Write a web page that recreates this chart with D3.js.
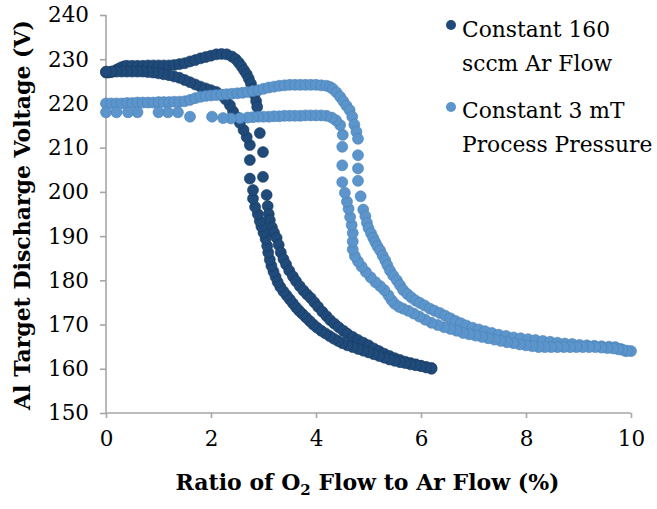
<!DOCTYPE html>
<html>
<head>
<meta charset="utf-8">
<script src="https://cdn.jsdelivr.net/npm/d3@7"></script>
<style>
  html, body { margin: 0; padding: 0; background: #fff; }
  svg { display: block; }
  text { font-family: "DejaVu Serif", serif; fill: #000; }
</style>
</head>
<body>
<svg id="chart" width="657" height="509"></svg>
<script>
// Discharge voltage hysteresis, Ar flow held at 160 sccm: O2/Ar ratio (%) vs voltage (V)
const arFlowSeries = [
  [0,227],[0.05,227],[0.1,227.1],[0.15,227.3],[0.2,227.6],[0.25,227.9],[0.3,228.2],[0.35,228.4],[0.4,228.5],
  [0.5,228.5],[0.6,228.5],[0.7,228.5],[0.8,228.6],[0.9,228.6],[1.0,228.6],[1.1,228.6],[1.2,228.6],
  [1.3,228.7],[1.4,228.9],[1.5,229.1],[1.6,229.5],[1.7,229.8],[1.8,230.2],[1.9,230.5],[2.0,230.8],
  [2.1,231.1],[2.2,231.2],[2.3,231.1],[2.4,230.6],[2.47,230],[2.53,229.2],[2.58,228.4],[2.63,227.5],
  [2.68,226.6],[2.72,225.6],[2.76,224.5],[2.8,223.3],[2.83,222],[2.86,220.5],[2.88,219.2],
  [2.93,213.3],[2.99,209],[2.99,203.4],[3.06,199.3],[3.08,196.8],[3.1,195],[3.12,193.6],[3.16,192],
  [3.2,190.8],[3.25,189.6],[3.29,188],[3.33,186.3],[3.38,184.8],[3.43,183.6],[3.49,182.2],[3.56,180.9],
  [3.62,179.8],[3.69,178.7],[3.76,177.7],[3.83,176.8],[3.9,176],[3.97,175],[4.04,174],[4.12,172.9],
  [4.2,171.9],[4.27,171],[4.35,170.2],[4.43,169.4],[4.52,168.6],[4.6,167.9],[4.7,167.2],[4.8,166.5],
  [4.9,165.9],[5.0,165.3],[5.1,164.6],[5.2,164],[5.3,163.4],[5.4,162.9],[5.5,162.4],[5.6,162],
  [5.7,161.6],[5.8,161.3],[5.9,161],[6.0,160.7],[6.1,160.4],[6.2,160.2]
];
const arFlowReturn = [
  [6.2,160],[6.1,160.3],[6.0,160.6],[5.9,160.8],[5.8,161],[5.7,161.3],[5.6,161.5],[5.5,161.8],
  [5.4,162.1],[5.3,162.5],[5.2,162.9],[5.1,163.3],[5.0,163.7],[4.9,164.1],[4.8,164.5],[4.7,164.9],
  [4.6,165.3],[4.5,165.8],[4.42,166.3],[4.34,166.8],[4.26,167.4],[4.18,168],[4.1,168.6],[4.02,169.3],
  [3.95,170],[3.88,170.8],[3.81,171.6],[3.74,172.4],[3.68,173.1],[3.62,173.9],[3.56,174.8],[3.5,175.7],
  [3.44,176.6],[3.38,177.5],[3.32,178.5],[3.27,179.6],[3.23,180.8],[3.19,182],[3.15,183.3],[3.12,184.7],
  [3.09,186.3],[3.07,187.8],[3.04,189.4],[3.0,190.8],[2.96,192.2],[2.93,193.4],[2.89,195],[2.84,196.6],
  [2.8,198.5],[2.8,200.4],[2.74,203],[2.74,207.2],[2.74,210.6],[2.68,212.4],[2.62,214],[2.55,215.6],
  [2.48,217],[2.42,218.2],[2.36,219.6],[2.28,220.9],[2.2,221.9],[2.1,222.6],[2.0,223],[1.9,223.4],
  [1.8,223.8],[1.7,224.3],[1.6,224.8],[1.5,225.3],[1.4,225.8],[1.3,226.1],[1.2,226.4],[1.1,226.6],
  [1.0,226.8],[0.9,227],[0.8,227.1],[0.7,227.2],[0.6,227.2],[0.5,227.2],[0.4,227.2],[0.3,227.2],
  [0.2,227.2],[0.1,227.2],[0,227.2]
];

// Discharge voltage hysteresis, process pressure held at 3 mT
const pressureSeries = [
  [0,220],[0.1,220],[0.2,220],[0.3,220],[0.4,220.1],[0.5,220.1],[0.6,220.2],[0.7,220.2],[0.8,220.2],
  [0.9,220.2],[1.0,220.3],[1.1,220.3],[1.2,220.3],[1.3,220.4],[1.4,220.4],[1.5,220.5],[1.6,220.8],
  [1.7,221.2],[1.8,221.5],[1.9,221.7],[2.0,221.8],[2.1,221.9],[2.2,222],[2.3,222.1],[2.4,222.2],
  [2.5,222.3],[2.6,222.4],[2.7,222.6],[2.8,222.8],[2.9,223],[3.0,223.3],[3.1,223.6],[3.2,223.8],
  [3.3,224],[3.4,224.1],[3.5,224.2],[3.6,224.2],[3.7,224.2],[3.8,224.2],[3.9,224.2],[4.0,224.2],
  [4.1,224.1],[4.2,224],[4.27,223.7],[4.32,223.3],[4.39,222.5],[4.46,221.5],[4.52,220.5],[4.58,219.5],
  [4.64,218.5],[4.69,217],[4.73,215.2],[4.77,213.6],[4.8,212],[4.8,208.3],[4.8,205.3],[4.8,202.5],
  [4.85,199],[4.9,196],[4.94,194.5],[4.97,193],[5.0,191.8],[5.05,190.6],[5.09,189.6],[5.13,188.6],
  [5.17,187.7],[5.22,186.8],[5.27,185.6],[5.32,184.5],[5.36,183.4],[5.41,182.2],[5.47,181.1],
  [5.54,180],[5.6,178.9],[5.66,177.8],[5.74,176.9],[5.82,176.1],[5.9,175.4],[5.98,174.9],[6.07,174.3],
  [6.17,173.6],[6.26,173.1],[6.36,172.6],[6.46,172],[6.56,171.4],[6.66,170.8],[6.76,170.3],[6.86,169.8],
  [6.98,169.3],[7.1,168.9],[7.22,168.5],[7.35,168.1],[7.48,167.7],[7.62,167.4],[7.76,167.1],[7.9,166.9],
  [8.04,166.7],[8.18,166.5],[8.32,166.3],[8.46,166.1],[8.6,165.9],[8.74,165.7],[8.88,165.6],[9.02,165.4],
  [9.16,165.3],[9.3,165.2],[9.44,165.1],[9.58,165],[9.7,164.9],[9.8,164.5],[9.9,164]
];
const pressureReturn = [
  [10,164],[9.92,164.1],[9.84,164.3],[9.76,164.4],[9.66,164.6],[9.55,164.7],[9.44,164.8],[9.32,164.9],
  [9.2,164.9],[9.08,164.9],[8.96,164.9],[8.84,164.9],[8.72,164.9],[8.6,164.9],[8.48,164.9],[8.36,164.9],
  [8.24,164.9],[8.12,165.1],[8.0,165.3],[7.88,165.5],[7.76,165.8],[7.64,166],[7.52,166.3],[7.4,166.6],
  [7.28,166.9],[7.16,167.2],[7.04,167.5],[6.92,167.8],[6.8,168.1],[6.68,168.6],[6.56,169],[6.44,169.4],
  [6.32,169.9],[6.2,170.4],[6.08,171.1],[5.97,171.8],[5.86,172.5],[5.76,173.1],[5.66,173.6],[5.58,174],
  [5.5,174.7],[5.44,175.5],[5.38,176.6],[5.3,177.8],[5.22,178.7],[5.13,179.6],[5.04,180.7],[4.95,181.9],
  [4.87,183.1],[4.8,184.3],[4.74,185.5],[4.7,187],[4.7,188.8],[4.7,190.7],[4.68,192.5],[4.65,194.3],
  [4.62,196.2],[4.59,197.8],[4.55,199.8],[4.5,202.2],[4.5,206],[4.5,210.2],[4.51,212.9],[4.46,215.1],
  [4.38,216.2],[4.3,216.8],[4.2,217.2],[4.1,217.3],[4.0,217.3],[3.9,217.3],[3.8,217.3],[3.7,217.2],
  [3.6,217.2],[3.5,217.2],[3.4,217.2],[3.3,217.1],[3.2,217.1],[3.1,217],[3.0,217],[2.9,217],[2.8,216.9],
  [2.7,216.8],[2.55,216.7],[2.38,216.6],[2.23,216.7],[2.02,217],[1.6,217],[1.37,218],[1.18,218],
  [1.0,218],[0.6,218],[0.42,218],[0.2,218],[0,218]
];

const xTickValues = [0, 2, 4, 6, 8, 10];
const yTickValues = [150, 160, 170, 180, 190, 200, 210, 220, 230, 240];
const legendLabels = [["Constant 160", "sccm Ar Flow"], ["Constant 3 mT", "Process Pressure"]];
const seriesColors = ["#1f4a79", "#5b95cb"];
const seriesStrokes = ["#163a62", "#4a80b6"];

const svg = d3.select("#chart");
const plot = { left: 106, right: 631, top: 15, bottom: 413 };

const x = d3.scaleLinear().domain([0, 10]).range([plot.left, plot.right]);
const y = d3.scaleLinear().domain([150, 240]).range([plot.bottom, plot.top]);

const axisColor = "#a6a6a6";

// Y axis with outward ticks
const yAxis = svg.append("g")
  .attr("transform", `translate(${plot.left},0)`)
  .call(d3.axisLeft(y).tickValues(yTickValues).tickSize(6).tickPadding(11).tickFormat(d3.format("d")));
// X axis with downward ticks
const xAxis = svg.append("g")
  .attr("transform", `translate(0,${plot.bottom})`)
  .call(d3.axisBottom(x).tickValues(xTickValues).tickSize(5).tickPadding(13).tickFormat(d3.format("d")));

[yAxis, xAxis].forEach(g => {
  g.select(".domain").attr("stroke", axisColor).attr("stroke-width", 1.6);
  g.selectAll(".tick line").attr("stroke", axisColor).attr("stroke-width", 1.6);
  g.selectAll(".tick text")
    .attr("fill", "#000")
    .style("font-family", '"DejaVu Serif", serif')
    .style("font-size", "21.5px");
});
yAxis.select(".domain").attr("d", `M-0,${plot.bottom}V${plot.top}`);
xAxis.select(".domain").attr("d", `M${plot.left},0H${plot.right}`);

// Scatter markers: first series beneath, second on top
const seriesData = [arFlowSeries.concat(arFlowReturn), pressureSeries.concat(pressureReturn)];
seriesData.forEach((pts, i) => {
  svg.append("g").selectAll("circle")
    .data(pts)
    .join("circle")
    .attr("cx", d => x(d[0]))
    .attr("cy", d => y(d[1]))
    .attr("r", 5.5)
    .attr("fill", seriesColors[i])
    .attr("stroke", seriesStrokes[i])
    .attr("stroke-width", 0.6);
});

// Axis titles
svg.append("text")
  .attr("transform", `translate(30,${(plot.top + plot.bottom) / 2 + 1}) rotate(-90)`)
  .attr("text-anchor", "middle")
  .style("font-size", "22px")
  .style("font-weight", "bold")
  .text("Al Target Discharge Voltage (V)");

const xTitle = svg.append("text")
  .attr("x", (plot.left + plot.right) / 2 - 1)
  .attr("y", 490)
  .attr("text-anchor", "middle")
  .style("font-size", "22px")
  .style("font-weight", "bold");
xTitle.append("tspan").text("Ratio of O");
xTitle.append("tspan").attr("dy", 5).style("font-size", "15px").text("2");
xTitle.append("tspan").attr("dy", -5).text(" Flow to Ar Flow (%)");

// Legend
const legendRows = [{ y: 37, dotY: 25 }, { y: 118, dotY: 107 }];
legendLabels.forEach((lines, i) => {
  const g = svg.append("g");
  g.append("circle")
    .attr("cx", 451).attr("cy", legendRows[i].dotY).attr("r", 5)
    .attr("fill", seriesColors[i]);
  lines.forEach((line, j) => {
    g.append("text")
      .attr("x", 462)
      .attr("y", legendRows[i].y + j * 34)
      .style("font-size", "21.8px")
      .text(line);
  });
});
</script>
</body>
</html>
